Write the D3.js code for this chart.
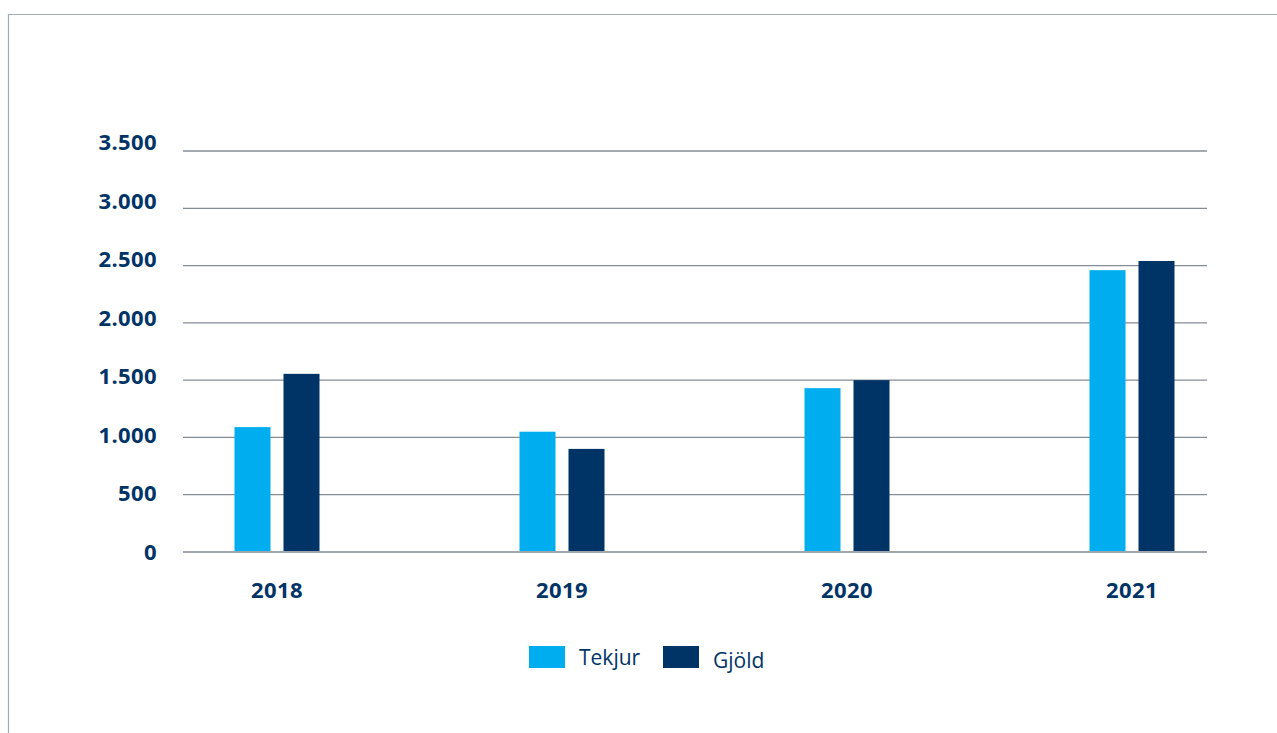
<!DOCTYPE html>
<html>
<head>
<meta charset="utf-8">
<script src="https://cdn.jsdelivr.net/npm/d3@7"></script>
<style>
  body { margin: 0; background: #fff; }
  svg { display: block; font-family: "Open Sans", sans-serif; }
</style>
</head>
<body>
<div id="chart"></div>
<script>
const years = ["2018", "2019", "2020", "2021"];
const seriesNames = ["Tekjur", "Gjöld"];
const tekjur = [1090, 1050, 1430, 2460];
const gjold = [1555, 900, 1500, 2540];
const yTicks = [0, 500, 1000, 1500, 2000, 2500, 3000, 3500];

const w = 1277;
const h = 733;
const colors = ["#00aeef", "#003466"];
const textColor = "#003466";

const svg = d3.select("#chart")
  .append("svg")
  .attr("width", w)
  .attr("height", h);

// frame (top + left edges only)
svg.append("path")
  .attr("d", "M8.5,733 V14.5 H1277")
  .attr("fill", "none")
  .attr("stroke", "#a3abb3")
  .attr("stroke-width", 1.2);

const yScale = d3.scaleLinear()
  .domain([0, 3500])
  .range([552, 151]);

// tick labels in the original drift slightly from the gridlines
const labelScale = d3.scaleLinear()
  .domain([0, 3500])
  .range([560, 150]);

const xScale = d3.scalePoint()
  .domain(years)
  .range([277, 1132]);

const xInner = d3.scaleBand()
  .domain(seriesNames)
  .range([-42.5, 42.5])
  .paddingInner(0.265);

// gridlines
svg.append("g")
  .selectAll("line")
  .data(yTicks)
  .enter()
  .append("line")
  .attr("x1", 183)
  .attr("x2", 1207)
  .attr("y1", d => yScale(d))
  .attr("y2", d => yScale(d))
  .attr("stroke", d => d === 0 ? "#a0a6ad" : "#858d95")
  .attr("stroke-width", d => d === 0 ? 2.2 : 1.3);

// y labels
const fmt = d3.formatLocale({ decimal: ",", thousands: ".", grouping: [3], currency: ["", ""] }).format(",");
svg.append("g")
  .selectAll("text")
  .data(yTicks)
  .enter()
  .append("text")
  .attr("x", 157)
  .attr("y", d => labelScale(d))
  .attr("text-anchor", "end")
  .attr("font-size", 22)
  .attr("letter-spacing", 0.4)
  .attr("font-weight", "bold")
  .attr("fill", textColor)
  .text(d => fmt(d));

// bars
const rows = years.map((y, i) => ({ year: y, values: [tekjur[i], gjold[i]] }));
const groups = svg.append("g")
  .selectAll("g")
  .data(rows)
  .enter()
  .append("g")
  .attr("transform", d => "translate(" + xScale(d.year) + ",0)");

groups.selectAll("rect")
  .data(d => d.values.map((v, j) => ({ name: seriesNames[j], value: v, idx: j })))
  .enter()
  .append("rect")
  .attr("x", d => xInner(d.name))
  .attr("y", d => yScale(d.value))
  .attr("width", xInner.bandwidth())
  .attr("height", d => yScale(0) - yScale(d.value) - 1)
  .attr("fill", d => colors[d.idx]);

// x labels
svg.append("g")
  .selectAll("text")
  .data(years)
  .enter()
  .append("text")
  .attr("x", d => xScale(d))
  .attr("y", 598)
  .attr("text-anchor", "middle")
  .attr("font-size", 22)
  .attr("letter-spacing", 0.4)
  .attr("font-weight", "bold")
  .attr("fill", textColor)
  .text(d => d);

// legend
const legend = svg.append("g")
  .selectAll("g")
  .data(seriesNames)
  .enter()
  .append("g")
  .attr("transform", (d, i) => "translate(" + (529 + i * 134) + ",646)");

legend.append("rect")
  .attr("width", 36)
  .attr("height", 22)
  .attr("fill", (d, i) => colors[i]);

legend.append("text")
  .attr("x", 50)
  .attr("y", (d, i) => i === 0 ? 19 : 22)
  .attr("font-size", 21)
  .attr("fill", textColor)
  .text(d => d);
</script>
</body>
</html>
